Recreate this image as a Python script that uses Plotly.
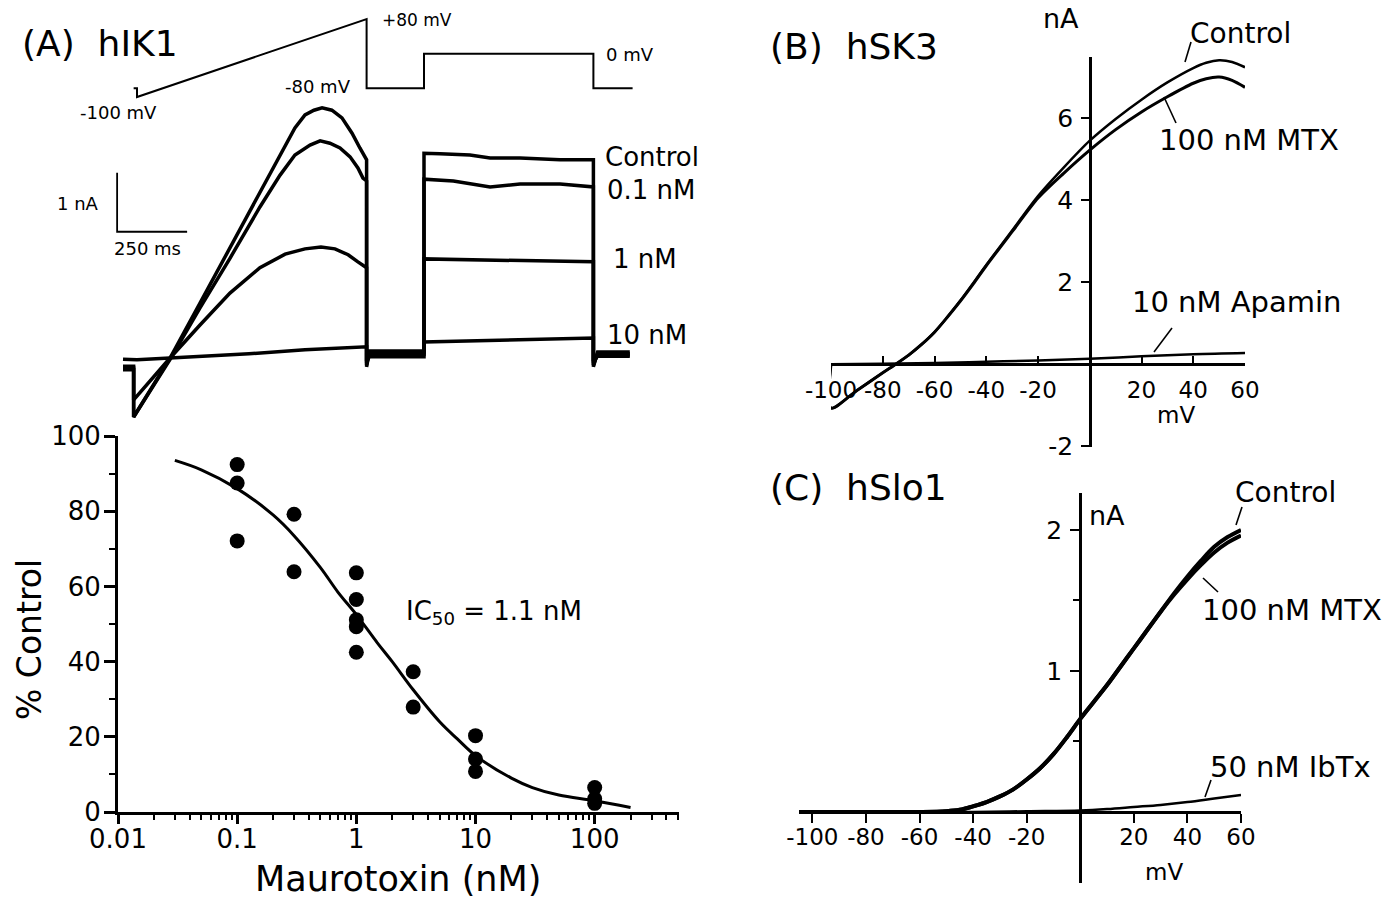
import math
import plotly.graph_objects as go

W, H = 1399, 907
FONT = "DejaVu Sans"

# ---------------- Data ----------------
# Panel A (bottom): dose-response of hIK1 block by maurotoxin
mtx_conc = [0.1, 0.1, 0.1, 0.3, 0.3, 1, 1, 1, 1, 1, 3, 3, 10, 10, 10, 100, 100, 100]
mtx_pct = [92.4, 87.5, 72.1, 79.2, 63.9, 63.6, 56.5, 51.1, 49.3, 42.5, 37.3, 27.9,
           20.3, 14.1, 10.8, 6.5, 3.5, 2.3]
fit_conc = [0.03, 0.05, 0.1, 0.2, 0.3, 0.5, 0.7, 1, 1.5, 2, 3, 5, 7, 10, 20, 30, 50, 100, 200]
fit_pct = [93.5, 91, 86, 79, 73.5, 65, 58.5, 52.5, 45, 40, 32.5, 24, 19.5, 15, 9, 6.5, 4.5, 3.0, 1.2]
dose_ticks = [0.01, 0.1, 1, 10, 100]
dose_ticktext = ["0.01", "0.1", "1", "10", "100"]

# Panel A (top): voltage protocol (ms, mV)
proto_t = [-12, 0, 0, 820, 820, 1025, 1025, 1630, 1630, 1770]
proto_mv = [-80, -80, -100, 80, -80, -80, 0, 0, -80, -80]

# Panel A (top): current traces (ms, nA)
ctrl_t = [-50, -12, -12, 118, 225, 332, 439, 511, 564, 600, 632, 661, 696, 732, 768, 796, 820,
          820, 830, 1025, 1025, 1082, 1189, 1261, 1368, 1511, 1630, 1630, 1645, 1760]
ctrl_na = [-0.17, -0.17, -1.0, 0, 0.93, 1.86, 2.81, 3.44, 3.90, 4.12, 4.20, 4.24, 4.20, 4.07,
           3.81, 3.56, 3.36, -0.15, 0.12, 0.12, 3.47, 3.46, 3.44, 3.39, 3.39, 3.36, 3.36,
           -0.15, 0.1, 0.1]
c01_t = [-50, -12, -12, 121, 225, 332, 439, 511, 564, 618, 654, 689, 725, 761, 789, 807, 820,
         820, 830, 1025, 1025, 1130, 1261, 1368, 1511, 1630, 1630, 1645, 1760]
c01_na = [-0.2, -0.2, -1.0, 0, 0.85, 1.69, 2.56, 3.10, 3.44, 3.61, 3.68, 3.64, 3.56, 3.41, 3.22,
          3.05, 3.0, -0.12, 0.09, 0.09, 3.03, 3.0, 2.9, 2.95, 2.95, 2.9, -0.12, 0.07, 0.07]
c1_t = [-50, -12, -12, 118, 225, 332, 439, 529, 600, 657, 707, 754, 789, 820, 820, 830, 1025,
        1025, 1630, 1630, 1645, 1760]
c1_na = [-0.14, -0.14, -0.71, 0, 0.56, 1.10, 1.53, 1.76, 1.85, 1.88, 1.85, 1.75, 1.63, 1.53,
         -0.08, 0.06, 0.06, 1.68, 1.63, -0.08, 0.05, 0.05]
c10_t = [-50, 0, 118, 400, 600, 820, 820, 830, 1025, 1025, 1630, 1630, 1645, 1760]
c10_na = [-0.02, -0.03, 0, 0.07, 0.14, 0.19, -0.05, 0.02, 0.02, 0.27, 0.34, -0.05, 0.03, 0.03]
SCALE_MS = 250
SCALE_NA = 1

# Panel B: hSK3 I-V (mV, nA)
sk3_mv = [-100, -100, -90, -80, -75, -70, -65, -60, -55, -50, -45, -40, -30, -20, -10, 0, 10,
          20, 30, 40, 45, 50, 55, 60]
sk3_control = [0, -1.07, -0.64, -0.21, 0, 0.22, 0.48, 0.78, 1.15, 1.55, 1.98, 2.42, 3.26, 4.1,
               4.8, 5.45, 5.98, 6.45, 6.87, 7.22, 7.35, 7.41, 7.37, 7.24]
sk3_mtx = [0, -1.07, -0.64, -0.21, 0, 0.22, 0.48, 0.78, 1.15, 1.54, 1.96, 2.4, 3.23, 4.05,
           4.66, 5.22, 5.72, 6.15, 6.52, 6.85, 6.96, 7.0, 6.92, 6.75]
sk3_apamin_mv = [-100, -80, -60, -40, -20, 0, 20, 40, 60]
sk3_apamin = [0, 0.01, 0.03, 0.06, 0.09, 0.13, 0.19, 0.24, 0.27]

# Panel C: hSlo1 I-V (mV, nA)
slo_mv = [-105, -60, -50, -45, -40, -35, -30, -25, -20, -15, -10, -5, 0, 5, 10, 15, 20, 25,
          30, 35, 40, 45, 50, 55, 60]
slo_control = [0, 0, 0.005, 0.015, 0.04, 0.07, 0.11, 0.16, 0.23, 0.31, 0.41, 0.53, 0.66, 0.78,
               0.9, 1.03, 1.16, 1.29, 1.42, 1.55, 1.67, 1.78, 1.88, 1.95, 2.0]
slo_mtx = [0, 0, 0.005, 0.015, 0.04, 0.07, 0.11, 0.16, 0.23, 0.31, 0.41, 0.53, 0.66, 0.78,
           0.9, 1.03, 1.16, 1.29, 1.42, 1.54, 1.65, 1.75, 1.84, 1.91, 1.96]
slo_ibtx_mv = [-105, -60, -40, -20, 0, 10, 20, 30, 40, 50, 60]
slo_ibtx = [0, 0, 0, 0.005, 0.01, 0.02, 0.035, 0.05, 0.07, 0.095, 0.12]

iv_ticks = [-100, -80, -60, -40, -20, 20, 40, 60]


# ---------------- helpers (pixel -> paper) ----------------
def X(p):
    return p / W


def Y(p):
    return 1 - p / H


# pixel mappings of the unframed trace panel
def t_of(px):
    return (px - 137) / 0.28


def i_of(py):
    return (358 - py) / 59


def v_of(py):
    return (97 - py) / 0.433 - 100


fig = go.Figure()
K = "black"

# dose-response
fig.add_trace(go.Scatter(x=fit_conc, y=fit_pct, mode="lines", xaxis="x", yaxis="y",
                         line=dict(color=K, width=3, shape="spline"), cliponaxis=False))
fig.add_trace(go.Scatter(x=mtx_conc, y=mtx_pct, mode="markers", xaxis="x", yaxis="y",
                         marker=dict(color=K, size=15), cliponaxis=False))

# traces A
for tt, ii in [(ctrl_t, ctrl_na), (c01_t, c01_na), (c1_t, c1_na), (c10_t, c10_na)]:
    fig.add_trace(go.Scatter(x=tt, y=ii, mode="lines", xaxis="x2", yaxis="y2",
                             line=dict(color=K, width=3.5), cliponaxis=False))
# scale bar
bar_t0, bar_i0 = -71, 2.14
fig.add_trace(go.Scatter(x=[bar_t0, bar_t0, bar_t0 + SCALE_MS],
                         y=[bar_i0 + SCALE_NA, bar_i0, bar_i0], mode="lines",
                         xaxis="x2", yaxis="y2", line=dict(color=K, width=1.8), cliponaxis=False))
# protocol
fig.add_trace(go.Scatter(x=proto_t, y=proto_mv, mode="lines", xaxis="x2", yaxis="y3",
                         line=dict(color=K, width=2), cliponaxis=False))

# panel B
fig.add_trace(go.Scatter(x=sk3_mv, y=sk3_control, mode="lines", xaxis="x3", yaxis="y4",
                         line=dict(color=K, width=2.5, shape="spline", smoothing=0.8), cliponaxis=False))
fig.add_trace(go.Scatter(x=sk3_mv, y=sk3_mtx, mode="lines", xaxis="x3", yaxis="y4",
                         line=dict(color=K, width=3, shape="spline", smoothing=0.8), cliponaxis=False))
fig.add_trace(go.Scatter(x=sk3_apamin_mv, y=sk3_apamin, mode="lines", xaxis="x3", yaxis="y4",
                         line=dict(color=K, width=2.5, shape="spline"), cliponaxis=False))

# panel C
fig.add_trace(go.Scatter(x=slo_mv, y=slo_control, mode="lines", xaxis="x4", yaxis="y5",
                         line=dict(color=K, width=4, shape="spline"), cliponaxis=False))
fig.add_trace(go.Scatter(x=slo_mv, y=slo_mtx, mode="lines", xaxis="x4", yaxis="y5",
                         line=dict(color=K, width=4, shape="spline"), cliponaxis=False))
fig.add_trace(go.Scatter(x=slo_ibtx_mv, y=slo_ibtx, mode="lines", xaxis="x4", yaxis="y5",
                         line=dict(color=K, width=2.5, shape="spline"), cliponaxis=False))

minor_log = [m * 10 ** e for e in range(-2, 3) for m in range(2, 10) if m * 10 ** e <= 510]

base = dict(showgrid=False, zeroline=False, showline=True, linecolor=K, tickcolor=K,
            fixedrange=True, automargin=False)

fig.update_layout(
    template="none",
    width=W, height=H, margin=dict(l=0, r=0, t=0, b=0, pad=0, autoexpand=False),
    paper_bgcolor="white", plot_bgcolor="white", showlegend=False,
    font=dict(family=FONT, color=K),
    xaxis=dict(base, type="log", domain=[X(118), X(679)], range=[-2, math.log10(510)],
               anchor="y", linewidth=3, ticks="outside", ticklen=9, tickwidth=3,
               tickvals=dose_ticks, ticktext=dose_ticktext, ticklabelstandoff=-7,
               tickfont=dict(family=FONT, size=26, color=K),
               minor=dict(tickvals=minor_log, ticks="outside", ticklen=5, tickwidth=2, tickcolor=K)),
    yaxis=dict(base, domain=[Y(812), Y(436)], range=[0, 100], anchor="x", linewidth=3,
               ticks="outside", ticklen=11, tickwidth=3, tickvals=[0, 20, 40, 60, 80, 100],
               tickfont=dict(family=FONT, size=26, color=K), ticklabelstandoff=-2,
               minor=dict(tickvals=[10, 30, 50, 70, 90], ticks="outside", ticklen=6, tickwidth=2,
                          tickcolor=K)),
    xaxis2=dict(domain=[X(100), X(660)], range=[t_of(100), t_of(660)], visible=False,
                anchor="y2", fixedrange=True, automargin=False),
    yaxis2=dict(domain=[Y(430), Y(0)], range=[i_of(430), i_of(0)], visible=False,
                anchor="x2", fixedrange=True, automargin=False),
    yaxis3=dict(domain=[Y(105), Y(5)], range=[v_of(105), v_of(5)], visible=False,
                anchor="x2", fixedrange=True, automargin=False),
    xaxis3=dict(base, domain=[X(831), X(1245)], range=[-100, 60], anchor="free",
                position=Y(364), linewidth=2.5, ticks="inside", ticklen=7, tickwidth=2,
                tickvals=iv_ticks, ticktext=[str(v) for v in iv_ticks],
                tickfont=dict(family=FONT, size=23, color=K), ticklabelstandoff=5),
    yaxis4=dict(base, domain=[Y(447), Y(57)], range=[-2.02, 7.49], anchor="free",
                position=X(1090), linewidth=2.5, ticks="outside", ticklen=8, tickwidth=2,
                tickvals=[-2, 2, 4, 6], ticktext=["-2", "2", "4", "6"],
                tickfont=dict(family=FONT, size=25, color=K), ticklabelstandoff=3),
    xaxis4=dict(base, domain=[X(799), X(1241)], range=[-105, 60], anchor="free",
                position=Y(812), linewidth=2.5, ticks="outside", ticklen=9, tickwidth=2,
                tickvals=iv_ticks, ticktext=[str(v) for v in iv_ticks],
                tickfont=dict(family=FONT, size=23, color=K), ticklabelstandoff=-5),
    yaxis5=dict(base, domain=[Y(883), Y(493)], range=[-0.504, 2.262], anchor="free",
                position=X(1080), linewidth=2.5, ticks="outside", ticklen=9, tickwidth=2,
                tickvals=[1, 2], tickfont=dict(family=FONT, size=25, color=K),
                ticklabelstandoff=3,
                minor=dict(tickvals=[0.5, 1.5], ticks="outside", ticklen=6, tickwidth=2, tickcolor=K)),
)


def txt(x, y, s, size, anchor="left", angle=0):
    fig.add_annotation(x=X(x), y=Y(y), xref="paper", yref="paper", text=s, showarrow=False,
                       xanchor=anchor, yanchor="middle", textangle=angle,
                       font=dict(family=FONT, size=size, color=K))


def seg(x0, y0, x1, y1, w=1.6):
    fig.add_shape(type="line", xref="paper", yref="paper", x0=X(x0), y0=Y(y0), x1=X(x1),
                  y1=Y(y1), line=dict(color=K, width=w))


# Panel A texts
txt(20, 43, "(A)  hIK1", 36)
txt(380, 20, "+80 mV", 17)
txt(353, 86, "-80 mV", 18, "right")
txt(604, 55, "0 mV", 18)
txt(78, 112, "-100 mV", 18)
txt(101, 203, "1 nA", 18, "right")
txt(147, 248, "250 ms", 18, "center")
txt(603, 157, "Control", 26)
txt(605, 190, "0.1 nM", 26)
txt(611, 259, "1 nM", 26)
txt(605, 335, "10 nM", 26)
txt(29, 640, "% Control", 33, "center", -90)
txt(398, 879, "Maurotoxin (nM)", 35, "center")
txt(404, 612, "IC<sub>50</sub> = 1.1 nM", 26)

# Panel B texts
txt(768, 47, "(B)  hSK3", 36)
txt(1061, 18, "nA", 27, "center")
txt(1176, 415, "mV", 23, "center")
txt(1188, 33, "Control", 28)
txt(1157, 140, "100 nM MTX", 29)
txt(1130, 302, "10 nM Apamin", 29)
seg(1185, 62, 1191, 42)
seg(1164, 97, 1176, 123)
seg(1154, 352, 1172, 328)

# Panel C texts
txt(768, 488, "(C)  hSlo1", 36)
txt(1087, 515, "nA", 27)
txt(1164, 872, "mV", 23, "center")
txt(1233, 492, "Control", 28)
txt(1200, 610, "100 nM MTX", 29)
txt(1208, 767, "50 nM IbTx", 29)
seg(1236, 525, 1242, 507)
seg(1203, 578, 1218, 592)
seg(1205, 797, 1211, 780)

fig.write_html("out.html", config={"displayModeBar": False},
               post_script="document.body.style.margin='0';document.body.style.overflow='hidden';")
